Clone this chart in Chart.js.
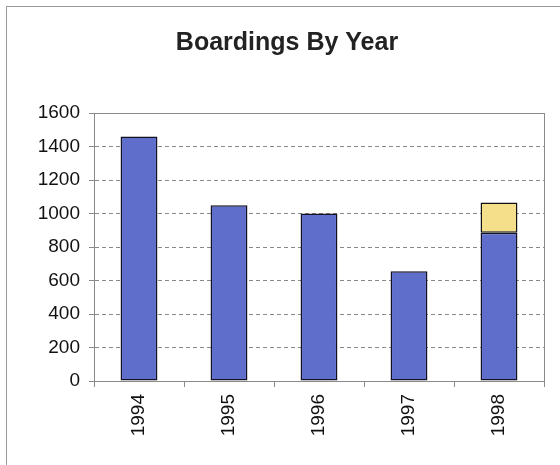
<!DOCTYPE html>
<html>
<head>
<meta charset="utf-8">
<script src="https://cdn.jsdelivr.net/npm/chart.js@4/dist/chart.umd.min.js"></script>
<style>
  html, body { margin: 0; padding: 0; background: #fff; overflow: hidden; width: 560px; height: 465px; }
  #frame { position: absolute; left: 6px; top: 6px; width: 600px; height: 500px; border: 1px solid #9a9a9a; }
  #wrap { position: absolute; left: 0; top: 0; width: 560px; height: 459px; }
</style>
</head>
<body>
<div id="frame"><div id="wrap"><canvas id="c" width="560" height="459"></canvas></div></div>
<script>
const titleText = "Boardings By Year";
const categories = ["1994", "1995", "1996", "1997", "1998"];
const seriesMain = [1460, 1050, 1000, 655, 885];
const seriesExtra = [0, 0, 0, 0, 180];
const yTicks = [0, 200, 400, 600, 800, 1000, 1200, 1400, 1600];

const frameDecor = {
  id: 'frameDecor',
  afterDatasetsDraw(chart) {
    const { ctx, chartArea } = chart;
    ctx.save();
    ctx.strokeStyle = '#8a8a8a';
    ctx.lineWidth = 1;
    ctx.beginPath();
    ctx.moveTo(Math.round(chartArea.right) + 0.5, chartArea.top);
    ctx.lineTo(Math.round(chartArea.right) + 0.5, chartArea.bottom);
    ctx.stroke();
    ctx.restore();
  },
  afterDraw(chart) {
    const { ctx } = chart;
    ctx.save();
    ctx.fillStyle = '#222';
    ctx.font = 'bold 25px "Liberation Sans", Arial, sans-serif';
    ctx.textAlign = 'center';
    ctx.textBaseline = 'alphabetic';
    ctx.fillText(titleText, 280, 43);
    ctx.restore();
  }
};

new Chart(document.getElementById('c'), {
  type: 'bar',
  data: {
    labels: categories,
    datasets: [
      { data: seriesMain, backgroundColor: '#5f6dcb', borderColor: '#111122', borderWidth: 1.5, borderSkipped: false },
      { data: seriesExtra, backgroundColor: '#f5df8a', borderColor: '#111111', borderWidth: 1.5, borderSkipped: false }
    ]
  },
  options: {
    responsive: false,
    animation: false,
    devicePixelRatio: 1,
    layout: { padding: { left: 0, right: 23, top: 106, bottom: 0 } },
    plugins: {
      legend: { display: false },
      tooltip: { enabled: false },
      title: { display: false }
    },
    datasets: { bar: { categoryPercentage: 1, barPercentage: 0.41 } },
    scales: {
      x: {
        stacked: true,
        grid: { display: true, drawOnChartArea: false, drawTicks: true, tickLength: 6, color: '#8a8a8a', offset: true },
        border: { display: true, color: '#8a8a8a', width: 1 },
        ticks: {
          color: '#111',
          font: { family: 'Liberation Sans, Arial, sans-serif', size: 19 },
          minRotation: 90, maxRotation: 90, padding: 7, autoSkip: false
        },
        afterFit(scale) { scale.height = 85; }
      },
      y: {
        stacked: true,
        min: 0, max: 1600,
        afterBuildTicks(scale) { scale.ticks = yTicks.map(v => ({ value: v })); },
        grid: { color: '#8a8a8a', lineWidth: 1, tickLength: 5, drawTicks: true },
        border: {
          display: true, color: '#8a8a8a', width: 1,
          dash: (ctx) => (ctx.tick && (ctx.tick.value === 1600 || ctx.tick.value === 0)) ? [] : [4, 3]
        },
        ticks: {
          color: '#111',
          font: { family: 'Liberation Sans, Arial, sans-serif', size: 19 },
          padding: 9,
          callback: (v) => String(v)
        },
        afterFit(scale) { scale.width = 87; }
      }
    }
  },
  plugins: [frameDecor]
});
</script>
</body>
</html>
